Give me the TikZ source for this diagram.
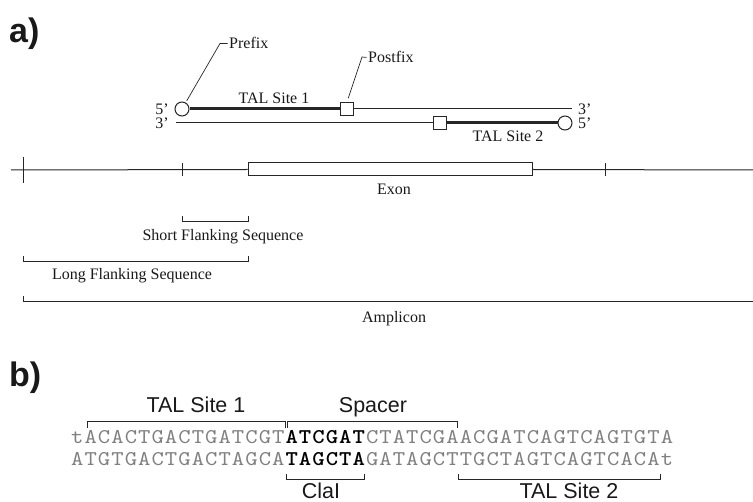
\documentclass[tikz,border=0pt]{standalone}
\usepackage{fontspec}
\setmainfont{Liberation Serif}
\newfontfamily\labfont{Liberation Sans}
\newfontfamily\seqfont{lmmono10-regular.otf}[BoldFont=lmmonolt10-bold.otf, FakeStretch=1.12, LetterSpace=5]
\begin{document}
\begin{tikzpicture}[x=1pt,y=-1pt,
  ln/.style={draw=black!85, line width=1pt},
  lead/.style={draw=black!85, line width=0.7pt},
  thk/.style={draw=black!85, line width=3pt},
  serif/.style={font=\fontsize{16}{19}\selectfont, inner sep=0pt, text=black!90},
  sans/.style={font=\labfont\fontsize{21.5}{25}\selectfont, inner sep=0pt, text=black!90},
  panel/.style={font=\labfont\bfseries\fontsize{34}{40}\selectfont, inner sep=0pt, anchor=base west, text=black!90},
  endc/.style={circle, draw=black!85, line width=1pt, fill=white, minimum size=14pt, inner sep=0pt},
  ends/.style={rectangle, draw=black!85, line width=1pt, fill=white, minimum size=13pt, inner sep=0pt},
  seq/.style={font=\seqfont\fontsize{21}{24}\selectfont, inner sep=0pt, anchor=base west, text=black!50},
  seqb/.style={seq, font=\seqfont\bfseries\fontsize{21}{24}\selectfont, text=black},
]
\useasboundingbox (0,0) rectangle (753,502);

% ---------- panel a ----------
\node[panel] (la) at (9,43) {a)};

% top strand
\node[endc] (c1) at (182,109) {};
\node[ends] (s1) at (347,109) {};
\coordinate (t1e) at (572,109);
\draw[thk] (c1) -- (s1);
\draw[ln] (s1) -- (t1e);
% bottom strand
\coordinate (b1s) at (176,123);
\node[ends] (s2) at (440,123) {};
\node[endc] (c2) at (565,123) {};
\draw[ln] (b1s) -- (s2);
\draw[thk] (s2) -- (c2);

\node[serif, anchor=base east] (l5a) at (169,114.5) {5’};
\node[serif, anchor=base east] (l3a) at (169,129) {3’};
\node[serif, anchor=base west] (r3a) at (578,114.5) {3’};
\node[serif, anchor=base west] (r5a) at (578,129) {5’};
\node[serif, anchor=base] (tal1a) at (274,104) {TAL Site 1};
\node[serif, anchor=base] (tal2a) at (508,142) {TAL Site 2};

% leaders
\node[serif, anchor=base west] (pre) at (229,49) {Prefix};
\coordinate (pk) at (220,43.5);
\draw[lead, shorten <=2pt] (c1.60) -- (pk) -- ([xshift=-1.5pt]pre.west);
\node[serif, anchor=base west] (post) at (368,63) {Postfix};
\coordinate (qk) at (362,57);
\draw[lead, shorten <=4pt] (s1.north) -- (qk) -- ([xshift=-1.5pt]post.west);

% gene line
\node[draw=black!85, line width=1pt, minimum width=284pt, minimum height=13pt, inner sep=0pt] (exon) at (390,169.5) {};
\coordinate (m0) at (11,170);
\coordinate (m1) at (753,170);
\draw[ln] (m0) -- (exon.west);
\draw[ln] (exon.east) -- (m1);
\draw[ln] (23,157) -- (23,183);
\draw[ln] (182,163.5) -- (182,176);
\draw[ln] (605,163.5) -- (605,176);
\node[serif, anchor=base] (exl) at (394,195) {Exon};

% brackets
\draw[ln] (182,216.5) -- (182,222) -- (248,222) -- (248,216.5);
\node[serif, anchor=base] (sfs) at (223,241) {Short Flanking Sequence};
\draw[ln] (23,256.5) -- (23,262) -- (248,262) -- (248,256.5);
\node[serif, anchor=base] (lfs) at (132,280) {Long Flanking Sequence};
\draw[ln] (23,296.5) -- (23,302) -- (753,302);
\node[serif, anchor=base] (amp) at (394,323) {Amplicon};

% ---------- panel b ----------
\node[panel] (lb) at (9,387) {b)};

\node[seq]  (q1a) at (71,444) {tACACTGACTGATCGT};
\node[seqb] (q1b) at (285.4,444) {ATCGAT};
\node[seq]  (q1c) at (365.8,444) {CTATCGAACGATCAGTCAGTGTA};
\node[seq]  (q2a) at (71,466) {ATGTGACTGACTAGCA};
\node[seqb] (q2b) at (285.4,466) {TAGCTA};
\node[seq]  (q2c) at (365.8,466) {GATAGCTTGCTAGTCAGTCACAt};

\draw[ln] (87,428) -- (87,422) -- (285,422) -- (285,428);
\draw[ln] (287,428) -- (287,422) -- (457,422) -- (457,428);
\draw[ln] (286,474) -- (286,480) -- (364,480) -- (364,474);
\draw[ln] (458,474) -- (458,480) -- (660,480) -- (660,474);

\node[sans, anchor=base] (tal1b) at (196,413) {TAL Site 1};
\node[sans, anchor=base] (spc) at (373,413) {Spacer};
\node[sans, anchor=base] (cla) at (321,498.5) {ClaI};
\node[sans, anchor=base] (tal2b) at (569,498.5) {TAL Site 2};
\end{tikzpicture}
\end{document}
